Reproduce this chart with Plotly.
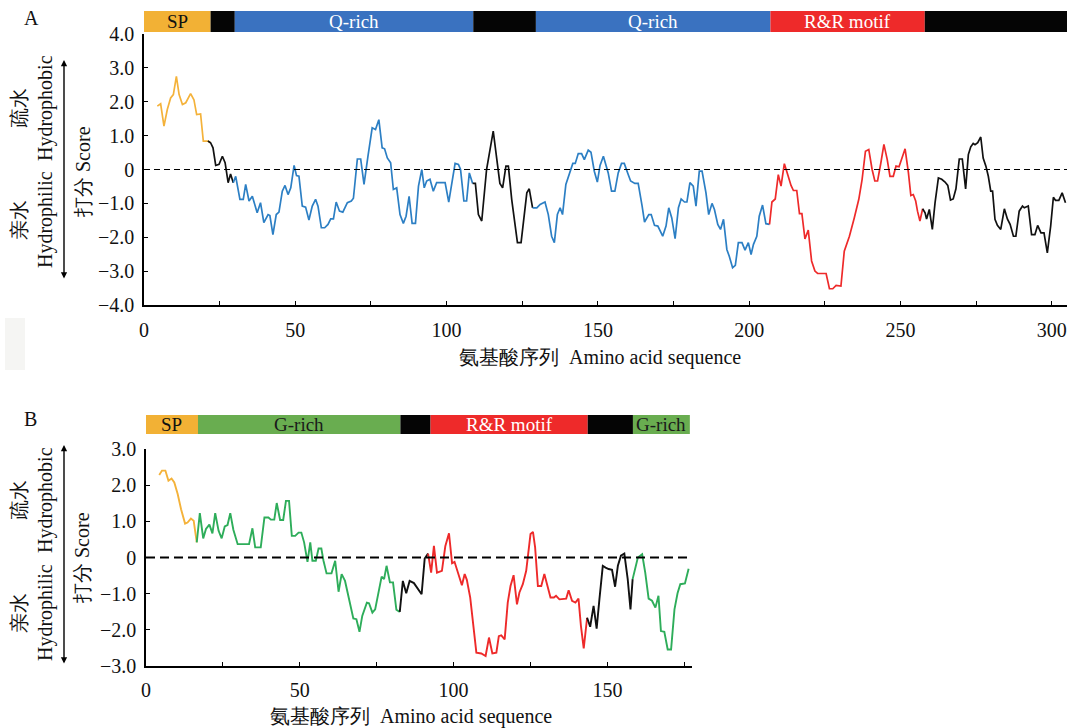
import plotly.graph_objects as go

# ---------------- data: panel A ----------------
A_pos = [4.4,5.5,6.6,7.7,8.8,9.7,10.7,11.6,12.7,13.8,15.4,16.5,17.4,18.7,19.6,21.1,22.0,22.8,23.7,24.8,
         25.9,26.8,27.8,28.6,29.5,30.3,31.7,32.8,33.6,34.7,35.8,37.4,38.5,39.6,41.0,41.6,42.6,43.7,44.6,45.7,
         46.6,47.6,48.5,49.6,50.4,51.2,52.3,53.4,54.5,55.6,56.7,57.5,58.6,59.7,60.8,61.7,62.6,63.5,64.6,65.7,
         67.2,68.5,69.2,70.5,71.6,72.7,74.0,75.4,76.5,77.6,78.7,79.5,80.4,81.5,
         82.4,83.5,84.6,85.7,86.6,87.6,88.6,89.7,90.7,91.8,92.6,93.4,94.5,95.6,96.7,99.5,100.7,101.7,102.8,103.9,
         104.6,105.7,106.6,107.5,108.6,109.5,110.5,111.6,113.2,115.4,117.6,118.5,119.6,120.4,121.5,123.4,124.6,126.5,127.3,128.4,
         129.8,130.9,132.5,133.6,134.7,135.6,136.6,137.5,138.3,139.4,140.6,141.7,142.5,143.5,144.6,145.5,146.8,147.7,148.8,149.8,
         150.7,151.8,153.4,154.5,155.6,156.7,157.8,158.7,160.0,160.8,162.2,163.3,
         164.6,165.4,166.8,167.6,168.7,169.8,171.4,172.5,173.4,174.4,175.5,176.6,177.5,178.6,179.4,180.4,181.5,182.4,183.5,184.4,
         185.7,186.6,187.7,188.5,189.6,190.5,191.5,192.6,193.4,194.5,195.4,196.4,197.6,198.6,199.7,200.6,201.4,202.5,203.3,204.4,
         205.5,206.7,207.5,208.6,209.6,210.5,211.6,212.7,213.8,214.6,215.7,216.6,217.4,218.4,219.5,220.6,221.7,222.6,225.4,226.5,
         227.6,228.7,230.3,231.4,233.1,234.7,236.2,237.3,238.4,239.5,240.6,241.5,242.4,243.5,
         244.5,245.6,246.5,247.6,248.5,249.5,250.4,251.5,252.6,253.4,254.2,255.0,255.6,256.4,257.3,258.1,258.6,259.5,260.5,261.4,
         262.5,263.6,264.7,265.6,266.5,267.4,268.3,269.4,270.4,271.5,272.4,273.2,274.0,274.6,275.5,276.5,277.3,278.2,279.0,279.8,
         280.4,281.2,282.0,283.1,284.3,285.3,286.2,287.3,288.1,289.2,290.3,290.9,292.2,293.3,294.4,295.3,296.4,297.4,298.5,299.6,
         300.5,301.2,302.3,303.4,304.5]
A_score = [1.87,1.94,1.28,1.77,2.11,2.21,2.75,2.21,1.92,1.97,2.24,2.06,1.62,1.64,0.84,0.84,0.79,0.64,0.12,0.15,
           0.39,0.2,-0.39,-0.13,-0.39,-0.2,-0.88,-0.88,-0.44,-0.93,-0.79,-1.28,-0.98,-1.57,-1.33,-1.36,-1.92,-1.33,-1.26,-0.64,
           -0.47,-0.74,-0.54,0.12,-0.18,-0.2,-1.08,-1.11,-1.49,-1.08,-0.88,-1.08,-1.72,-1.72,-1.62,-1.46,-1.46,-0.96,-1.23,-1.26,
           -0.98,-0.93,-0.85,0.31,0.31,-0.44,0.39,1.23,1.18,1.47,0.64,0.61,0.34,0.2,
           -0.59,-0.54,-1.33,-1.59,-1.38,-0.79,-1.59,-1.59,-0.49,0.0,-0.54,-0.34,-0.29,-0.64,-0.39,-0.39,-0.96,-0.44,0.18,0.15,
           0.0,-0.93,-0.93,-0.1,-0.41,-0.41,-1.33,-1.52,0.0,1.13,-0.41,-0.54,0.1,0.1,-0.88,-2.16,-2.16,-0.69,-0.57,-1.13,
           -1.13,-1.03,-0.96,-1.33,-1.97,-2.16,-1.33,-1.13,-1.33,-0.44,-0.1,0.18,0.18,0.47,0.47,0.29,0.57,0.51,-0.05,-0.37,
           0.12,0.39,-0.1,-0.64,-0.64,-0.1,0.18,0.18,-0.15,-0.34,-0.41,-0.41,
           -1.08,-1.55,-1.33,-1.33,-1.65,-1.67,-1.97,-1.67,-1.13,-1.43,-2.04,-1.13,-0.87,-0.96,-0.96,-0.39,-0.49,-1.08,-0.05,-0.05,
           -0.69,-1.33,-1.0,-1.18,-1.62,-1.77,-1.47,-2.36,-2.56,-2.9,-2.83,-2.16,-2.16,-2.38,-2.16,-2.51,-2.21,-1.97,-1.38,-1.05,
           -1.6,-1.62,-0.96,-0.87,-0.15,-0.49,0.17,-0.15,-0.47,-0.62,-0.62,-1.3,-1.3,-2.05,-1.79,-2.7,-3.0,-3.07,-3.07,-3.52,
           -3.52,-3.42,-3.44,-2.41,-1.97,-1.43,-0.88,-0.29,0.54,0.59,0.0,-0.34,-0.34,0.2,
           0.74,0.29,-0.2,-0.2,0.1,0.08,0.34,0.61,-0.1,-0.77,-0.74,-0.93,-1.23,-1.52,-1.16,-1.28,-1.46,-1.18,-1.77,-0.98,
           -0.25,-0.29,-0.37,-0.47,-0.9,-0.87,-0.57,0.31,0.31,-0.57,0.44,0.67,0.77,0.73,0.79,0.96,0.34,0.1,-0.2,-0.64,
           -0.64,-1.47,-1.65,-1.77,-1.16,-1.46,-1.62,-1.97,-1.97,-1.23,-1.08,-1.13,-1.08,-1.92,-1.92,-1.65,-1.87,-1.87,-2.46,-1.67,
           -0.82,-0.91,-0.91,-0.69,-0.98]

A_dom_start = [0, 22, 30, 108.8, 129.5, 207, 258]
A_dom_end = [22, 30, 108.8, 129.5, 207, 258, 305]
A_dom_label = ["SP", "", "Q-rich", "", "Q-rich", "R&R motif", ""]
A_dom_kind = ["SP", "other", "Q", "other", "Q", "RR", "other"]

# ---------------- data: panel B ----------------
B_pos = [4.3,5.2,6.3,7.3,8.3,9.2,10.3,11.4,12.7,13.5,14.6,15.5,16.5,17.5,18.6,19.5,20.6,21.6,22.5,23.6,
         24.6,25.6,26.5,27.4,28.4,29.8,33.5,34.6,35.5,37.3,38.5,39.8,40.6,41.7,42.5,43.6,44.6,45.5,46.5,47.4,
         48.5,49.6,50.5,51.4,52.5,53.4,54.1,55.2,56.1,57.0,57.7,58.7,60.3,61.5,62.6,63.6,64.7,66.2,67.4,68.4,
         69.4,70.3,71.8,72.5,73.6,74.5,75.8,76.6,77.4,78.2,79.3,80.3,81.4,82.5,83.5,84.6,85.7,87.1,88.2,89.6,
         90.6,91.7,92.7,93.6,94.6,96.2,97.3,98.5,99.5,100.3,101.6,102.7,103.6,104.3,105.4,106.3,107.4,109.0,110.4,111.5,
         112.6,113.9,114.7,115.5,116.6,117.6,118.5,119.5,120.6,121.4,122.5,123.6,124.3,125.0,125.8,126.5,127.4,128.5,129.5,130.4,
         131.5,132.6,133.3,134.4,136.6,137.4,138.5,139.6,140.6,141.4,142.3,143.4,144.4,145.5,146.5,147.4,148.5,149.4,150.4,151.5,
         152.5,153.4,154.4,155.5,156.6,157.5,158.2,158.8,159.9,161.3,162.3,163.4,164.5,165.6,166.6,167.4,168.5,169.6,170.7,171.8,
         172.8,173.7,175.2,176.4]
B_score = [2.29,2.41,2.41,2.13,2.19,2.08,1.76,1.34,0.94,0.97,1.08,1.02,0.42,1.23,0.53,0.79,0.91,0.67,1.23,0.74,
           0.53,0.86,0.9,1.23,0.77,0.37,0.37,0.81,0.28,0.28,1.11,1.11,1.05,1.05,1.51,1.04,1.04,1.57,1.57,0.6,
           0.6,0.69,0.69,0.42,-0.12,0.42,-0.09,-0.09,0.25,0.25,-0.09,-0.44,-0.44,-0.09,-0.95,-0.46,-0.65,-1.27,-1.69,-1.71,
           -2.06,-1.62,-1.25,-1.27,-1.53,-1.44,-0.93,-0.53,-0.6,-0.23,-0.69,-0.69,-1.45,-1.51,-0.65,-0.99,-0.65,-0.71,-0.86,-1.02,
           -0.03,0.11,-0.42,0.32,-0.42,-0.37,0.31,0.67,-0.16,-0.12,-0.51,-0.77,-0.46,-0.62,-1.11,-1.81,-2.64,-2.66,-2.73,-2.22,
           -2.66,-2.64,-2.18,-2.16,-2.27,-1.25,-0.79,-0.49,-1.3,-0.97,-0.74,-0.37,0.21,0.65,0.71,0.28,-0.79,-0.79,-0.46,-0.77,
           -1.11,-1.11,-1.06,-1.16,-1.14,-0.91,-1.2,-1.25,-1.14,-1.9,-2.52,-1.67,-1.92,-1.34,-1.97,-1.16,-0.23,-0.28,-0.32,-0.34,
           -0.81,-0.23,0.05,0.11,-0.6,-1.44,-0.6,-0.4,0.0,0.09,-0.42,-1.14,-1.2,-1.39,-1.06,-2.04,-2.06,-2.55,-2.55,-1.44,
           -0.99,-0.74,-0.72,-0.31]

B_dom_start = [0, 16.9, 82.7, 92.5, 143.6, 158.3]
B_dom_end = [16.9, 82.7, 92.5, 143.6, 158.3, 176.8]
B_dom_label = ["SP", "G-rich", "", "R&R motif", "", "G-rich"]
B_dom_kind = ["SP", "G", "other", "RR", "other", "G"]

A_yticks = [-4, -3, -2, -1, 0, 1, 2, 3, 4]
A_yticktext = ["\u22124.0", "\u22123.0", "\u22122.0", "\u22121.0", "0", "1.0", "2.0", "3.0", "4.0"]
B_yticks = [-3, -2, -1, 0, 1, 2, 3]
B_yticktext = ["\u22123.0", "\u22122.0", "\u22121.0", "0", "1.0", "2.0", "3.0"]

# ---------------- styles ----------------
W, H = 1077, 728
FONT = "Liberation Serif"
LINE_COL = {"SP": "#F4B23A", "other": "#111111", "Q": "#2C7FC4", "RR": "#EE2A2A", "G": "#2EAD5A"}
BAR_COL = {"SP": "#F2B135", "other": "#050505", "Q": "#3A72C0", "RR": "#EE2A2A", "G": "#69AD50"}
BAR_TXT = {"SP": "#111111", "Q": "#FFFFFF", "RR": "#FFFFFF", "G": "#1a1a1a", "other": "#FFFFFF"}


def px_x(p):
    return p / W


def px_y(p):
    return 1 - p / H


fig = go.Figure()


def add_segments(pos, score, starts, ends, kinds, xa, ya, width):
    for s, e, k in zip(starts, ends, kinds):
        idx = [i for i, p in enumerate(pos) if s <= p <= e]
        if not idx:
            continue
        if idx[0] > 0:
            idx = [idx[0] - 1] + idx
        fig.add_trace(go.Scatter(
            x=[pos[i] for i in idx], y=[score[i] for i in idx], mode="lines",
            line=dict(color=LINE_COL[k], width=width), xaxis=xa, yaxis=ya,
            showlegend=False, hoverinfo="skip"))


add_segments(A_pos, A_score, A_dom_start, A_dom_end, A_dom_kind, "x", "y", 1.7)
add_segments(B_pos, B_score, B_dom_start, B_dom_end, B_dom_kind, "x2", "y2", 1.9)

shapes = []
annotations = []


def add_bars(starts, ends, labels, kinds, xref, y0p, y1p):
    for s, e, lab, k in zip(starts, ends, labels, kinds):
        shapes.append(dict(type="rect", xref=xref, yref="paper", x0=s, x1=e,
                           y0=px_y(y1p), y1=px_y(y0p), fillcolor=BAR_COL[k],
                           line=dict(width=0), layer="above"))
        if lab:
            annotations.append(dict(x=(s + e) / 2, y=px_y((y0p + y1p) / 2), xref=xref, yref="paper",
                                    text=lab, showarrow=False, xanchor="center", yanchor="middle",
                                    font=dict(family=FONT, size=19, color=BAR_TXT[k])))


add_bars(A_dom_start, A_dom_end, A_dom_label, A_dom_kind, "x", 11, 32)
add_bars(B_dom_start, B_dom_end, B_dom_label, B_dom_kind, "x2", 415, 434)

shapes.append(dict(type="line", xref="x", yref="y", x0=0, x1=305, y0=0, y1=0,
                   line=dict(color="black", width=1.2, dash="6px,4px")))
shapes.append(dict(type="line", xref="x2", yref="y2", x0=0, x1=177.5, y0=0, y1=0,
                   line=dict(color="black", width=1.8, dash="9px,5px")))

shapes.append(dict(type="rect", xref="paper", yref="paper", x0=px_x(5), x1=px_x(25),
                   y0=px_y(370), y1=px_y(318), fillcolor="#f5f5f3", line=dict(width=0)))

tfont = dict(family=FONT, size=20, color="#111111")


def note(xp, yp, text, angle=0, **kw):
    d = dict(x=px_x(xp), y=px_y(yp), xref="paper", yref="paper", text=text, showarrow=False,
             xanchor="center", yanchor="middle", textangle=angle, font=tfont, align="center")
    d.update(kw)
    annotations.append(d)


note(31, 18, "A")
note(30, 419, "B")
note(600, 357, "氨基酸序列  Amino acid sequence")
note(411, 716, "氨基酸序列  Amino acid sequence")
note(83, 172, "打分 Score", -90)
note(82, 558, "打分 Score", -90)
for yc1, yc2 in [(108, 220), (500, 613)]:
    note(32, yc1, "疏水<br>Hydrophobic", -90)
    note(32, yc2, "亲水<br>Hydrophilic", -90)

for ytop, length in [(60, 220), (445, 220)]:
    annotations.append(dict(x=px_x(64), y=px_y(ytop), xref="paper", yref="paper", text="",
                            showarrow=True, ax=0, ay=length, axref="pixel", ayref="pixel",
                            arrowside="end+start", arrowhead=2, arrowsize=0.9, arrowwidth=1.4,
                            arrowcolor="black"))

axis_common = dict(showline=True, linecolor="black", linewidth=1.5, ticks="inside",
                   ticklen=4, tickwidth=1.2, tickcolor="black", showgrid=False, zeroline=False,
                   tickfont=dict(family=FONT, size=20, color="#111111"), automargin=False)

fig.update_layout(
    width=W, height=H, margin=dict(l=0, r=0, t=0, b=0),
    paper_bgcolor="white", plot_bgcolor="white", showlegend=False,
    font=dict(family=FONT),
    xaxis=dict(domain=[px_x(144), px_x(1067)], range=[0, 305], anchor="y",
               tickvals=[0, 50, 100, 150, 200, 250, 300],
               minor=dict(tickvals=[25, 75, 125, 175, 225, 275], ticks="inside", ticklen=4,
                          tickcolor="black", tickwidth=1.2),
               ticklabelstandoff=6, **axis_common),
    yaxis=dict(domain=[px_y(305), px_y(34)], range=[-4, 4], anchor="x",
               tickvals=A_yticks, ticktext=A_yticktext, ticklabelstandoff=4, **axis_common),
    xaxis2=dict(domain=[px_x(146), px_x(692)], range=[0, 177.5], anchor="y2",
                tickvals=[0, 50, 100, 150],
                minor=dict(tickvals=[25, 75, 125, 175], ticks="inside", ticklen=4,
                           tickcolor="black", tickwidth=1.2),
                ticklabelstandoff=6, **axis_common),
    yaxis2=dict(domain=[px_y(665.7), px_y(449.3)], range=[-3, 3], anchor="x2",
                tickvals=B_yticks, ticktext=B_yticktext, ticklabelstandoff=4, **axis_common),
    shapes=shapes, annotations=annotations,
)

fig.write_html("out.html", config={"displayModeBar": False},
               post_script="document.body.style.margin='0px';document.body.style.padding='0px';")
